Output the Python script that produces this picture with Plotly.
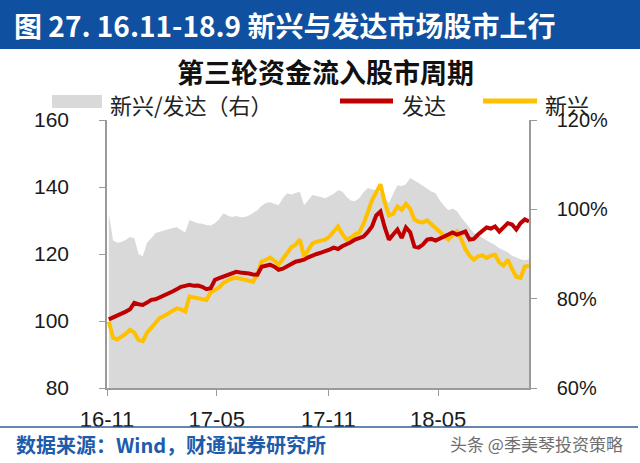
import pandas as pd
import plotly.graph_objects as go

# ---------------- data (weekly) ----------------
dates = pd.date_range("2016-11-04", periods=100, freq="7D")

developed = [100.5, 101, 101.5, 102, 102.8, 103.5, 105.4, 105, 104.8, 105.5,
             106.3, 106.5, 107, 107.5, 108.2, 108.8, 109.5, 110.2, 110.5, 110.8,
             110.5, 110.6, 110.2, 109.5, 109.8, 112.3, 112.8, 113.2, 113.8, 114.2,
             114.7, 114.5, 114.4, 114.2, 113.9, 113.8, 116.2, 116.5, 116.8, 116.2,
             115.3, 115.6, 116.3, 117.2, 117.7, 118, 118.3, 119, 119.6, 120,
             120.4, 120.7, 121.3, 121.9, 121.5, 122.3, 122.8, 123.5, 124.3, 124.6,
             125.2, 126.5, 128.2, 131.5, 132.7, 128, 124.3, 125.8, 127.3, 124.8,
             127.9, 126.5, 122.2, 121.9, 122.8, 124.3, 124.5, 124, 124.6, 125.3,
             125.8, 126.4, 125.8, 126.2, 126.7, 124.3, 124.5, 125.8, 126.8, 127.9,
             127.6, 128.2, 126.7, 127.8, 129.2, 128.8, 127.3, 129.2, 130.3, 129.7]

emerging = [99.8, 95, 94.5, 95.3, 96.2, 97.4, 96.5, 94.3, 94, 96.5,
            97.9, 99.2, 100.9, 101.5, 102.2, 103, 103.8, 103.5, 102.8, 107.3,
            107, 106.9, 106.5, 106.3, 108.5, 109.3, 110, 111.4, 112.2, 112.7,
            112.9, 112.6, 112.3, 112, 111.7, 114, 117.7, 118.3, 118.9, 118,
            116.8, 118.5, 120.3, 122, 122.8, 124.3, 119.2, 121.5, 123.2, 123.7,
            124, 124.3, 125.2, 126.8, 128.2, 126, 124.3, 124.8, 125.8, 126.4,
            129, 132.4, 136, 138.4, 140.8, 135.4, 131.5, 132, 134.2, 133.2,
            135, 133.5, 130.3, 129.6, 129.4, 130, 128.8, 127.9, 126.5, 125.5,
            124.3, 125.5, 126.7, 124.5, 121.5, 119.5, 118.3, 119.3, 119.6, 118.8,
            119.5, 119.8, 117.5, 116.5, 118.3, 115.5, 113.2, 112.9, 116.2, 116.5]

ratio_pct = [99, 93, 92.5, 92.7, 93.2, 93.8, 93.5, 90, 89.5, 92.5,
             93.5, 94.7, 95, 95.3, 95.5, 95.8, 96, 95.3, 94.8, 97.6,
             97.2, 96.9, 96.8, 96.5, 96.4, 96.9, 97.8, 99.1, 98.6, 98.3,
             98.5, 98.2, 98.3, 98.6, 99.2, 99.8, 100.8, 101.4, 101.6, 101.2,
             100.9, 102.5, 103.6, 103.3, 103.6, 104, 100.9, 102, 103.2, 103,
             102.8, 102.5, 103, 103.5, 104.3, 104, 102.8, 102, 101.8, 102.5,
             103.8, 104.8, 104.5, 104.2, 103.7, 102.5, 101.4, 103.5, 105.4, 105.2,
             105.6, 107, 106.5, 105.9, 105.3, 104.7, 104, 103.6, 102, 100.8,
             99.8, 100.2, 99.6, 98.2, 97, 95.8, 94.7, 94.2, 93.7, 93.1,
             92.5, 92, 91.3, 90.8, 90.4, 89.6, 89.2, 88.8, 88.6, 88.8]

x_tick_vals = ["2016-11-01", "2017-05-01", "2017-11-01", "2018-05-01"]
x_tick_text = ["16-11", "17-05", "17-11", "18-05"]
left_ticks = [80, 100, 120, 140, 160]
right_ticks = [60, 80, 100, 120]
right_tick_text = ["60%", "80%", "100%", "120%"]

title_text = "图 27. 16.11-18.9 新兴与发达市场股市上行"
subtitle_text = "第三轮资金流入股市周期"
legend_names = ["新兴/发达（右）", "发达", "新兴"]
source_text = "数据来源：Wind，财通证券研究所"
watermark_text = "头条 @季美琴投资策略"

# ---------------- layout geometry ----------------
W, H = 640, 463
L, R, T, B = 107, 529, 120, 388
PW, PH = R - L, B - T


def px(xp):
    return (xp - L) / PW


def py(yp):
    return (B - yp) / PH


RED = "#c00000"
YEL = "#ffc000"
GRAY = "#d9d9d9"
BLUE = "#1050a0"
NUM_FONT = "Liberation Sans, Arial, sans-serif"
CJK = "Noto Sans CJK SC"

fig = go.Figure()

fig.add_trace(go.Scatter(
    x=dates, y=ratio_pct, yaxis="y", mode="lines",
    line=dict(color=GRAY, width=0), fill="tozeroy", fillcolor=GRAY,
    name=legend_names[0], showlegend=False, hoverinfo="skip"))
fig.add_trace(go.Scatter(
    x=dates, y=emerging, yaxis="y2", mode="lines",
    line=dict(color=YEL, width=4), name=legend_names[2], showlegend=False))
fig.add_trace(go.Scatter(
    x=dates, y=developed, yaxis="y2", mode="lines",
    line=dict(color=RED, width=4), name=legend_names[1], showlegend=False))

axis_line = dict(showline=True, linecolor="#9a9a9a", linewidth=1.5,
                 ticks="outside", tickcolor="#9a9a9a", ticklen=6,
                 showgrid=False, zeroline=False, automargin=False)

fig.update_layout(
    width=W, height=H,
    margin=dict(l=L, r=W - R, t=T, b=H - B),
    paper_bgcolor="white", plot_bgcolor="white",
    showlegend=False,
    xaxis=dict(**axis_line, type="date",
               range=["2016-11-01", "2018-09-28"],
               tickvals=x_tick_vals, ticktext=x_tick_text,
               tickfont=dict(family=NUM_FONT, size=22, color="#1a1a1a"),
               ticklabelstandoff=5),
    yaxis=dict(**axis_line, side="right", range=[60, 120],
               tickvals=right_ticks, ticktext=right_tick_text,
               tickfont=dict(family=NUM_FONT, size=20, color="#1a1a1a"),
               ticklabelstandoff=16),
    yaxis2=dict(**axis_line, side="left", overlaying="y", range=[80, 160],
                tickvals=left_ticks,
                tickfont=dict(family=NUM_FONT, size=21, color="#1a1a1a"),
                ticklabelstandoff=26),
)

shapes = [
    # header bar
    dict(type="rect", xref="paper", yref="paper",
         x0=px(0), x1=px(W), y0=py(49), y1=py(0),
         fillcolor=BLUE, line=dict(width=0), layer="below"),
    # bottom separator line
    dict(type="line", xref="paper", yref="paper",
         x0=px(0), x1=px(638), y0=py(427), y1=py(427),
         line=dict(color="#2f5f93", width=1.5)),
    # legend swatches
    dict(type="rect", xref="paper", yref="paper",
         x0=px(52), x1=px(102), y0=py(108), y1=py(95),
         fillcolor=GRAY, line=dict(width=0)),
    dict(type="line", xref="paper", yref="paper",
         x0=px(340), x1=px(393), y0=py(101), y1=py(101),
         line=dict(color=RED, width=5)),
    dict(type="line", xref="paper", yref="paper",
         x0=px(483), x1=px(537), y0=py(101), y1=py(101),
         line=dict(color=YEL, width=5)),
]
fig.update_layout(shapes=shapes)

ann = [
    dict(text=title_text, x=px(12), y=py(25), xanchor="left", yanchor="middle",
         font=dict(family=CJK, size=28, color="white", weight="bold")),
    dict(text=subtitle_text, x=px(325), y=py(72), xanchor="center", yanchor="middle",
         font=dict(family=CJK, size=27, color="#111111", weight="bold")),
    dict(text=legend_names[0], x=px(108), y=py(104), xanchor="left", yanchor="middle",
         font=dict(family=CJK, size=22, color="#222222")),
    dict(text=legend_names[1], x=px(400), y=py(104), xanchor="left", yanchor="middle",
         font=dict(family=CJK, size=22, color="#222222")),
    dict(text=legend_names[2], x=px(543), y=py(104), xanchor="left", yanchor="middle",
         font=dict(family=CJK, size=22, color="#222222")),
    dict(text=source_text, x=px(14), y=py(444), xanchor="left", yanchor="middle",
         font=dict(family=CJK, size=20, color="#1d5bab", weight="bold")),
    dict(text=watermark_text, x=px(625), y=py(443), xanchor="right", yanchor="middle",
         font=dict(family=CJK, size=17, color="#6e6e6e")),
]
for a in ann:
    a.update(xref="paper", yref="paper", showarrow=False)
fig.update_layout(annotations=ann)

fig.write_html(
    "out.html",
    config={"displayModeBar": False},
    post_script="document.body.style.margin='0px';document.body.style.padding='0px';",
)
